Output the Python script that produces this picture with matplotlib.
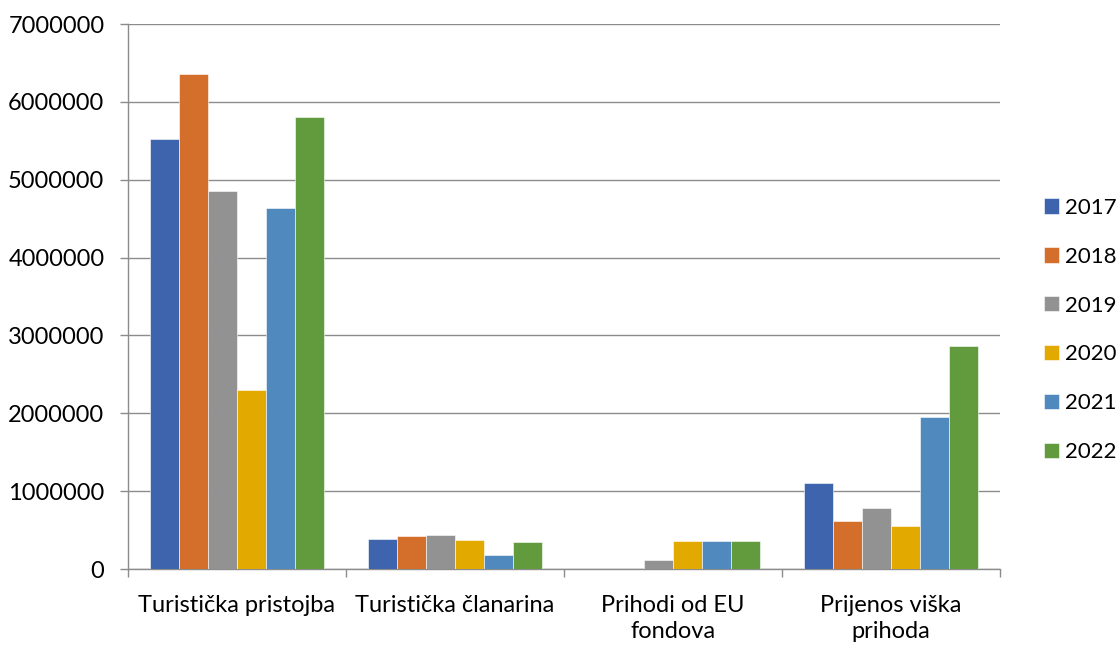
import numpy as np
import matplotlib.pyplot as plt
from matplotlib.ticker import FixedLocator

# data
categories = ["Turistička pristojba", "Turistička članarina", "Prihodi od EU\nfondova", "Prijenos viška\nprihoda"]
years = ["2017", "2018", "2019", "2020", "2021", "2022"]
v2017 = [5520000, 385000, 0, 1100000]
v2018 = [6360000, 420000, 0, 620000]
v2019 = [4855000, 440000, 110000, 780000]
v2020 = [2295000, 370000, 360000, 555000]
v2021 = [4640000, 180000, 360000, 1950000]
v2022 = [5805000, 345000, 360000, 2860000]
colors = ["#3E64AD", "#D46F2B", "#929292", "#E2AA00", "#4F89BD", "#629A3E"]

plt.rcParams['font.family'] = ['Lato', 'DejaVu Sans']
FS = 17

fig = plt.figure(figsize=(11.2, 6.45), dpi=100)
ax = fig.add_axes([128 / 1120, 1 - 569 / 645, 872 / 1120, 545 / 645])

x = np.arange(len(categories))
series = [v2017, v2018, v2019, v2020, v2021, v2022]
w = 0.8 / len(series)
for i, (vals, col, yr) in enumerate(zip(series, colors, years)):
    ax.bar(x - 0.4 + w * (i + 0.5), vals, width=w, color=col, label=yr,
           edgecolor="white", linewidth=0.4, zorder=3)

ax.set_xlim(-0.5, len(categories) - 0.5)
ax.set_ylim(0, 7000000)
ax.set_yticks(np.arange(0, 7000001, 1000000))
ax.set_yticklabels([str(v) for v in range(0, 7000001, 1000000)])
ax.grid(True, axis="y", color="#8C8C8C", linewidth=1.0, zorder=0)

ax.set_xticks(x)
ax.set_xticklabels(categories, linespacing=1.3)
ax.xaxis.set_minor_locator(FixedLocator(np.arange(-0.5, len(categories), 1.0)))
ax.tick_params(axis="x", which="major", length=0, pad=19, labelsize=FS)
ax.tick_params(axis="x", which="minor", length=6, color="#8C8C8C", width=1)
ax.tick_params(axis="y", length=6, color="#8C8C8C", width=1, labelsize=FS, pad=11)

for s in ["top", "right"]:
    ax.spines[s].set_visible(False)
for s in ["left", "bottom"]:
    ax.spines[s].set_color("#8C8C8C")
    ax.spines[s].set_linewidth(1)

ax.legend(loc="center left", bbox_to_anchor=(1.05, 0.4385), frameon=False,
          fontsize=16, handlelength=0.68, handleheight=0.68, handletextpad=0.3,
          labelspacing=1.3, borderpad=0, borderaxespad=0)

fig.savefig("out.png", dpi=100)
